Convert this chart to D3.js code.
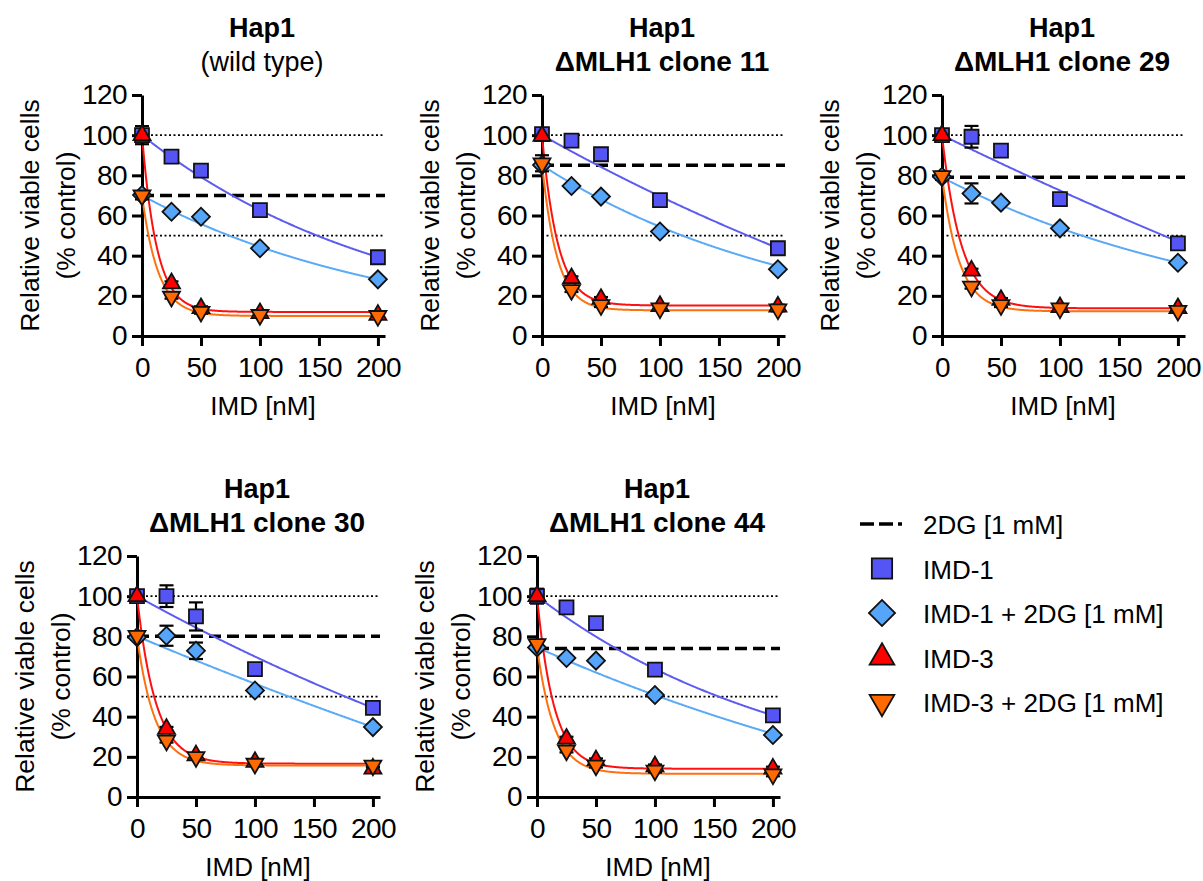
<!DOCTYPE html>
<html>
<head>
<meta charset="utf-8">
<script src="https://cdn.jsdelivr.net/npm/d3@7"></script>
<style>
  body { margin: 0; background: #fff; }
  svg { font-family: "Liberation Sans", Arial, sans-serif; }
</style>
</head>
<body>
<svg id="chart" width="1203" height="881"></svg>
<script>
// concentrations (nM)
const conc = [0, 25, 50, 100, 200];

const titles = [
  ["Hap1", "(wild type)"],
  ["Hap1", "\u0394MLH1 clone 11"],
  ["Hap1", "\u0394MLH1 clone 29"],
  ["Hap1", "\u0394MLH1 clone 30"],
  ["Hap1", "\u0394MLH1 clone 44"]
];

// 2DG alone, per panel
const dg2 = [70, 85, 79, 80, 74];

// means per panel
const imd1 = [[100, 89.3, 82.3, 62.7, 39.2], [100.5, 97.3, 90.5, 67.7, 43.7], [100, 99.2, 92.3, 68.2, 46.1], [100, 100, 89.9, 63.7, 44.4], [100, 94.4, 86.6, 63.4, 40.6]];
const imd1dg = [[70.2, 61.9, 59.4, 43.7, 28.2], [85.1, 74.7, 69.4, 52, 33.2], [79.3, 71, 66.4, 53.6, 36.5], [79.5, 80.3, 72.8, 53, 34.8], [74.5, 69.2, 67.9, 50.8, 30.9]];
const imd3 = [[100, 26.2, 13.8, 11.3, 10.5], [99.6, 28.7, 18.4, 14.9, 14.6], [100, 32.5, 17.9, 14.3, 13.8], [100, 33.9, 20.7, 17.4, 14.1], [100, 29, 18.2, 15.2, 14.1]];
const imd3dg = [[70, 19.6, 12.1, 10.5, 10], [86, 22.9, 15.4, 13.8, 13.3], [79.7, 24.6, 15.4, 13.8, 12.6], [80.3, 28.1, 19.9, 16.6, 15.7], [76.2, 23.2, 15.7, 13.2, 11.3]];

// SEM
const imd1Err = [[4.5, 1, 1, 1, 1], [2, 1, 1, 1, 1], [2, 5.4, 1, 1, 1], [2, 5.4, 7, 1, 1], [3.7, 1, 1, 1, 1]];
const imd1dgErr = [[1, 1, 1, 1, 1], [1, 1, 1, 1, 1], [1, 5, 1, 1, 1], [1, 5, 4.1, 1, 1], [1, 1, 1, 1, 1]];
const imd3Err = [[2, 1, 1, 1, 1], [2, 1, 1, 1, 1], [2, 1, 1, 1, 1], [2, 1, 1, 1, 1], [2, 1, 1, 1, 1]];
const imd3dgErr = [[2, 1, 1, 1, 1], [4, 1, 1, 1, 1], [2, 1, 1, 1, 1], [2, 1, 1, 1, 1], [2, 1, 1, 1, 1]];

// one-phase decay fits: [Y0, plateau, K]
const imd1Fit = [[100, 0, 0.00467], [100, -100, 0.00165], [100, -250, 0.00082], [100, -100, 0.00163], [100, 0, 0.0045]];
const imd1dgFit = [[70, 0, 0.00455], [85, 0, 0.00446], [79, 0, 0.00386], [80, -200, 0.00088], [74.5, -50, 0.00212]];
const imd3Fit = [[100, 12, 0.08], [100, 15.2, 0.075], [100, 13.8, 0.061], [100, 16.6, 0.063], [100, 14.1, 0.07]];
const imd3dgFit = [[70, 10, 0.073], [86, 12.8, 0.079], [79.5, 12.3, 0.068], [80, 15.7, 0.066], [75, 11.6, 0.068]];

const yTicks = [0, 20, 40, 60, 80, 100, 120];
const xTicks = [0, 50, 100, 150, 200];

const legendLabels = ["2DG [1 mM]", "IMD-1", "IMD-1 + 2DG [1 mM]", "IMD-3", "IMD-3 + 2DG [1 mM]"];

const series = [
  { name: "IMD-1", vals: imd1, err: imd1Err, fit: imd1Fit, fill: "#5555f5", line: "#5c5cf0", shape: "square" },
  { name: "IMD-1 + 2DG", vals: imd1dg, err: imd1dgErr, fit: imd1dgFit, fill: "#55a5fa", line: "#5aaaf8", shape: "diamond" },
  { name: "IMD-3", vals: imd3, err: imd3Err, fit: imd3Fit, fill: "#ff0000", line: "#ff1010", shape: "up" },
  { name: "IMD-3 + 2DG", vals: imd3dg, err: imd3dgErr, fit: imd3dgFit, fill: "#ff6a00", line: "#ff7010", shape: "down" }
];

// panel layout: origin (x of 0 nM, y of 0 %)
const panels = [
  { x0: 142, y0: 336 }, { x0: 542, y0: 336 }, { x0: 942, y0: 336 },
  { x0: 137, y0: 797 }, { x0: 537, y0: 797 }
];
const PW = 243, PH = 241;

var symbolPath = (shape, big) => {
  var s = big ? 1.45 : 1;
  if (shape == "square") return d3.symbol(d3.symbolSquare, 196 * s * s)();
  if (shape == "diamond") return d3.symbol(d3.symbolSquare, 162 * s * s)();
  return d3.symbol(d3.symbolTriangle, 125 * s * s)();
}
var symbolRot = (shape) => shape == "diamond" ? 45 : shape == "down" ? 180 : 0;

var svg = d3.select("#chart");

panels.forEach((p, i) => {
  var x = d3.scaleLinear().domain([0, 206]).range([p.x0, p.x0 + PW]);
  var y = d3.scaleLinear().domain([0, 120]).range([p.y0, p.y0 - PH]);
  var g = svg.append("g");

  // titles
  var cx = p.x0 + 120;
  g.append("text").text(titles[i][0])
    .attr("x", cx).attr("y", y(120) - 58)
    .attr("text-anchor", "middle").attr("font-size", 27).attr("font-weight", "bold");
  g.append("text").text(titles[i][1])
    .attr("x", cx).attr("y", y(120) - 24)
    .attr("text-anchor", "middle").attr("font-size", i == 0 ? 27 : 28)
    .attr("font-weight", i == 0 ? "normal" : "bold");

  // reference lines
  [100, 50].forEach(v => {
    g.append("line")
      .attr("x1", x(0)).attr("x2", x(204)).attr("y1", y(v)).attr("y2", y(v))
      .attr("stroke", "#000").attr("stroke-width", 1.6).attr("stroke-dasharray", "2,2.5");
  });
  g.append("line")
    .attr("x1", x(0)).attr("x2", x(206)).attr("y1", y(dg2[i])).attr("y2", y(dg2[i]))
    .attr("stroke", "#000").attr("stroke-width", 3.5).attr("stroke-dasharray", "12,6");

  // axes
  var ya = g.append("g").attr("transform", `translate(${p.x0},0)`)
    .call(d3.axisLeft(y).tickValues(yTicks).tickSizeInner(10).tickSizeOuter(0).tickPadding(5));
  var xa = g.append("g").attr("transform", `translate(0,${p.y0})`)
    .call(d3.axisBottom(x).tickValues(xTicks).tickSizeInner(10).tickSizeOuter(0).tickPadding(11));
  [ya, xa].forEach(a => {
    a.selectAll("path, line").attr("stroke", "#000").attr("stroke-width", 3);
    a.selectAll("text").attr("font-size", 28).attr("fill", "#000")
      .attr("letter-spacing", -0.6)
      .attr("font-family", "'Liberation Sans', Arial, sans-serif");
  });

  // axis titles
  g.append("text").text("IMD [nM]")
    .attr("x", p.x0 + 121).attr("y", p.y0 + 79)
    .attr("text-anchor", "middle").attr("font-size", 26);
  var yc = y(60);
  g.append("text").text("Relative viable cells")
    .attr("transform", `translate(${p.x0 - 103},${yc}) rotate(-90)`)
    .attr("text-anchor", "middle").attr("font-size", 26.5);
  g.append("text").text("(% control)")
    .attr("transform", `translate(${p.x0 - 67},${yc}) rotate(-90)`)
    .attr("text-anchor", "middle").attr("font-size", 26.5);

  // fit curves
  var xs = d3.range(0, 200.5, 0.5);
  series.forEach(s => {
    var f = s.fit[i];
    var line = d3.line().x(d => x(d)).y(d => y(f[1] + (f[0] - f[1]) * Math.exp(-f[2] * d)));
    g.append("path").datum(xs).attr("d", line)
      .attr("fill", "none").attr("stroke", s.line).attr("stroke-width", 2);
  });

  // error bars + markers
  series.forEach(s => {
    var pts = conc.map((c, j) => ({ c: c, v: s.vals[i][j], e: s.err[i][j] }));
    var eb = g.append("g");
    pts.forEach(d => {
      eb.append("line").attr("x1", x(d.c)).attr("x2", x(d.c))
        .attr("y1", y(d.v - d.e)).attr("y2", y(d.v + d.e));
      [d.v - d.e, d.v + d.e].forEach(v => {
        eb.append("line").attr("x1", x(d.c) - 7).attr("x2", x(d.c) + 7)
          .attr("y1", y(v)).attr("y2", y(v));
      });
    });
    eb.selectAll("line").attr("stroke", "#000").attr("stroke-width", 2.2);
  });
  series.forEach(s => {
    g.selectAll(null)
      .data(conc.map((c, j) => ({ c: c, v: s.vals[i][j] })))
      .enter().append("path")
      .attr("d", symbolPath(s.shape, false))
      .attr("transform", d => `translate(${x(d.c)},${y(d.v)}) rotate(${symbolRot(s.shape)})`)
      .attr("fill", s.fill).attr("stroke", "#111").attr("stroke-width", 1.8);
  });
});

// legend
var lg = svg.append("g");
var rowY = d3.scalePoint().domain(legendLabels).range([524, 702]);
lg.append("line").attr("x1", 860).attr("x2", 902)
  .attr("y1", rowY(legendLabels[0])).attr("y2", rowY(legendLabels[0]))
  .attr("stroke", "#000").attr("stroke-width", 3.5).attr("stroke-dasharray", "14,5");
series.forEach((s, k) => {
  lg.append("path")
    .attr("d", symbolPath(s.shape, true))
    .attr("transform", `translate(882,${rowY(legendLabels[k + 1])}) rotate(${symbolRot(s.shape)})`)
    .attr("fill", s.fill).attr("stroke", "#111").attr("stroke-width", 1.8);
});
legendLabels.forEach(l => {
  lg.append("text").text(l).attr("x", 923).attr("y", rowY(l) + 10).attr("font-size", 26);
});
</script>
</body>
</html>
